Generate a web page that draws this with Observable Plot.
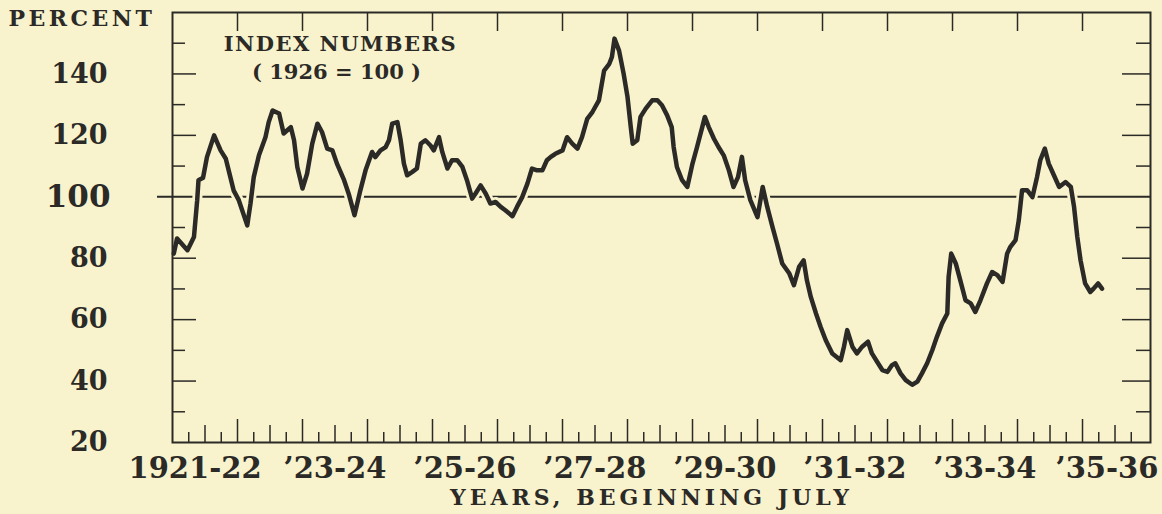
<!DOCTYPE html>
<html>
<head>
<meta charset="utf-8">
<script src="https://cdn.jsdelivr.net/npm/d3@7"></script>
<script src="https://cdn.jsdelivr.net/npm/@observablehq/plot@0.6"></script>
<style>
  html, body { margin: 0; padding: 0; background: #f8f3cd; }
  #chart { width: 1162px; height: 514px; }
</style>
</head>
<body>
<div id="chart"></div>
<script>
// Time position (fractional year, July 1921 = 1921.5) and index (1926 = 100)
const years = [
  1921.52,1921.57,1921.73,1921.83,1921.88,1921.90,1921.97,1922.03,1922.14,1922.24,
  1922.32,1922.39,1922.44,1922.52,1922.65,1922.70,1922.75,1922.83,1922.93,1922.98,
  1923.04,1923.14,1923.21,1923.32,1923.37,1923.42,1923.50,1923.57,1923.65,1923.73,
  1923.80,1923.88,1923.96,1924.03,1924.14,1924.21,1924.30,1924.39,1924.47,1924.57,
  1924.62,1924.70,1924.78,1924.83,1924.88,1924.96,1925.01,1925.06,1925.11,1925.19,
  1925.26,1925.32,1925.39,1925.47,1925.52,1925.60,1925.65,1925.73,1925.80,1925.88,
  1925.96,1926.03,1926.11,1926.16,1926.24,1926.32,1926.39,1926.47,1926.55,1926.62,
  1926.73,1926.80,1926.88,1926.96,1927.03,1927.11,1927.19,1927.26,1927.32,1927.39,
  1927.50,1927.57,1927.65,1927.73,1927.80,1927.88,1927.96,1928.06,1928.14,1928.22,
  1928.26,1928.30,1928.37,1928.44,1928.50,1928.55,1928.58,1928.65,1928.70,1928.78,
  1928.88,1928.96,1929.03,1929.11,1929.18,1929.21,1929.26,1929.34,1929.42,1929.50,
  1929.57,1929.65,1929.69,1929.75,1929.83,1929.90,1929.98,1930.06,1930.13,1930.20,
  1930.26,1930.31,1930.39,1930.50,1930.58,1930.65,1930.73,1930.80,1930.88,1930.99,
  1931.06,1931.14,1931.21,1931.26,1931.32,1931.40,1931.47,1931.55,1931.65,1931.78,
  1931.83,1931.88,1931.96,1932.03,1932.11,1932.20,1932.26,1932.34,1932.42,1932.50,
  1932.57,1932.62,1932.70,1932.78,1932.88,1932.96,1933.03,1933.11,1933.19,1933.26,
  1933.34,1933.42,1933.44,1933.48,1933.55,1933.62,1933.70,1933.78,1933.85,1933.93,
  1934.03,1934.11,1934.19,1934.27,1934.34,1934.39,1934.47,1934.52,1934.57,1934.65,
  1934.73,1934.80,1934.85,1934.92,1934.98,1935.06,1935.14,1935.24,1935.32,1935.37,
  1935.42,1935.47,1935.54,1935.62,1935.67,1935.74,1935.80
];
const indexValues = [
  81.5,86.4,82.6,86.9,98.9,105.4,106.2,112.9,120.0,115.1,
  112.4,106.4,102.1,98.9,90.7,97.8,106.4,113.5,119.4,124.3,
  128.1,127.1,120.6,122.7,118.4,109.7,102.7,107.5,117.3,123.8,
  121.1,115.7,115.1,110.8,105.4,101.0,94.0,102.1,108.6,114.6,
  112.9,115.1,116.2,118.4,123.8,124.3,118.4,110.8,107.0,108.1,
  109.2,117.3,118.4,116.7,115.1,119.4,114.6,109.2,111.9,111.9,
  109.7,105.4,99.4,101.0,103.7,101.0,97.8,98.3,96.7,95.6,
  93.7,96.7,99.9,104.3,109.2,108.6,108.6,111.9,113.0,114.0,
  115.1,119.4,117.3,115.7,119.4,125.4,127.6,131.4,141.1,143.3,
  145.5,151.5,147.6,140.1,132.5,122.7,117.3,118.4,126.0,128.7,
  131.4,131.4,129.8,126.5,122.7,116.2,109.7,105.4,103.2,110.8,
  116.2,122.7,126.0,122.7,118.9,116.2,113.5,108.6,103.2,106.4,
  113.0,105.4,98.9,93.4,103.2,96.7,90.2,84.8,78.3,75.0,
  71.2,77.2,79.3,72.8,67.4,62.0,57.7,53.3,49.0,46.8,
  51.2,56.6,51.2,49.0,51.2,52.8,49.0,46.3,43.6,43.0,
  45.2,45.8,42.5,40.3,38.8,39.8,42.5,45.8,50.1,54.4,
  58.8,62.0,73.9,81.5,78.3,72.8,66.3,65.3,62.5,66.3,
  71.8,75.5,74.5,72.3,81.5,83.7,85.9,92.4,102.1,102.1,
  99.9,106.4,111.9,115.7,110.8,107.0,103.2,104.8,103.2,96.7,
  86.9,79.3,71.8,69.0,70.1,71.8,70.1
];

// Axis labels
const yearLabels = ["1921-22", "\u201923-24", "\u201925-26", "\u201927-28", "\u201929-30", "\u201931-32", "\u201933-34", "\u201935-36"];
const yearLabelStarts = [1921, 1923, 1925, 1927, 1929, 1931, 1933, 1935];
const yTickLabels = [20, 40, 60, 80, 120, 140];
const yTickLabelMain = [100];
const yTicksLong = [40, 60, 80, 120, 140];
const yTicksShort = [30, 50, 70, 90, 110, 130, 150];
const fiscalYears = d3.range(1921, 1936); // years beginning July

const data = years.map((t, i) => ({t, v: indexValues[i]}));

const bg = "#f8f3cd";
const ink = "#2b2a27";
const fontFamily = "DejaVu Serif";

const yearBoundaries = fiscalYears.slice(1).map(y => y + 0.5);      // July
const halfYears = fiscalYears.map(y => y + 1);                       // January
const quarters = fiscalYears.flatMap(y => [y + 0.75, y + 1.25]);     // Oct, Apr

const plotW = 1162 - 172 - 12;
const plotH = 514 - 12 - 72;

// small horizontal nudges so the end labels stay inside the page
const labelShift = (d, i) => (i === 0 ? -10 : i === yearLabels.length - 1 ? -8 : 0);

const chart = Plot.plot({
  width: 1162,
  height: 514,
  marginLeft: 172,
  marginRight: 12,
  marginTop: 12,
  marginBottom: 72,
  x: {domain: [1921.5, 1936.546], axis: null},
  y: {domain: [20, 160], axis: null},
  style: {background: bg, color: ink, fontFamily, overflow: "visible"},
  marks: [
    // reference line at 100, extending out past the frame
    Plot.ruleY([100], {stroke: ink, strokeWidth: 2, insetLeft: -15}),
    // halo under the series line
    Plot.line(data, {x: "t", y: "v", stroke: bg, strokeWidth: 10, strokeLinejoin: "round"}),
    // frame
    Plot.frame({stroke: ink, strokeWidth: 2}),
    // bottom ticks (quarterly)
    Plot.tickX(yearBoundaries, {x: d => d, stroke: ink, strokeWidth: 1.5, insetTop: plotH - 23}),
    Plot.tickX(halfYears, {x: d => d, stroke: ink, strokeWidth: 1.5, insetTop: plotH - 17}),
    Plot.tickX(quarters, {x: d => d, stroke: ink, strokeWidth: 1.5, insetTop: plotH - 10}),
    // top ticks (yearly)
    Plot.tickX(yearBoundaries, {x: d => d, stroke: ink, strokeWidth: 1.5, insetBottom: plotH - 19}),
    // left ticks
    Plot.tickY(yTicksLong, {y: d => d, stroke: ink, strokeWidth: 1.5, insetRight: plotW - 24}),
    Plot.tickY(yTicksShort, {y: d => d, stroke: ink, strokeWidth: 1.5, insetRight: plotW - 13}),
    // right ticks
    Plot.tickY(yTicksLong, {y: d => d, stroke: ink, strokeWidth: 1.5, insetLeft: plotW - 28}),
    Plot.tickY(yTicksShort, {y: d => d, stroke: ink, strokeWidth: 1.5, insetLeft: plotW - 14}),
    // series line
    Plot.line(data, {x: "t", y: "v", stroke: ink, strokeWidth: 4.5, strokeLinejoin: "round", strokeLinecap: "round"}),
    // y tick labels
    Plot.text(yTickLabels, {y: d => d, text: d => String(d), frameAnchor: "left", dx: -65, textAnchor: "end",
      lineAnchor: "middle", fontSize: 27, fontWeight: "bold", fill: ink}),
    Plot.text(yTickLabelMain, {y: d => d, text: d => String(d), frameAnchor: "left", dx: -62, textAnchor: "end",
      lineAnchor: "middle", fontSize: 31, fontWeight: "bold", fill: ink}),
    // x tick labels
    Plot.text(yearLabelStarts, {x: d => d + 1, text: (d, i) => yearLabels[i], frameAnchor: "bottom",
      dy: 26, lineAnchor: "middle", fontSize: 29, fontWeight: "bold", fill: ink}),
    // axis titles and annotation
    Plot.text(["PERCENT"], {frameAnchor: "top-left", dx: -164, dy: 6, textAnchor: "start", lineAnchor: "middle",
      fontSize: 22, fontWeight: "bold", fill: ink}),
    Plot.text(["YEARS, BEGINNING JULY"], {frameAnchor: "bottom", dx: -10, dy: 55, lineAnchor: "middle",
      fontSize: 22, fontWeight: "bold", fill: ink}),
    Plot.text(["INDEX NUMBERS"], {frameAnchor: "top-left", dx: 168, dy: 32, textAnchor: "middle", lineAnchor: "middle",
      fontSize: 21, fontWeight: "bold", fill: ink}),
    Plot.text(["( 1926 = 100 )"], {frameAnchor: "top-left", dx: 164, dy: 60, textAnchor: "middle", lineAnchor: "middle",
      fontSize: 21, fontWeight: "bold", fill: ink})
  ]
});

const svg = d3.select(chart);
svg.selectAll("text").each(function() {
  const t = this.textContent;
  if (t === "PERCENT") d3.select(this).attr("letter-spacing", 3.5);
  if (t === "YEARS, BEGINNING JULY") d3.select(this).attr("letter-spacing", 4);
  if (t === "INDEX NUMBERS") d3.select(this).attr("letter-spacing", 1.5);
  const li = yearLabels.indexOf(t);
  if (li >= 0) {
    const s = labelShift(null, li);
    if (s) d3.select(this).attr("dx", s);
  }
});

document.getElementById("chart").appendChild(chart);
</script>
</body>
</html>
